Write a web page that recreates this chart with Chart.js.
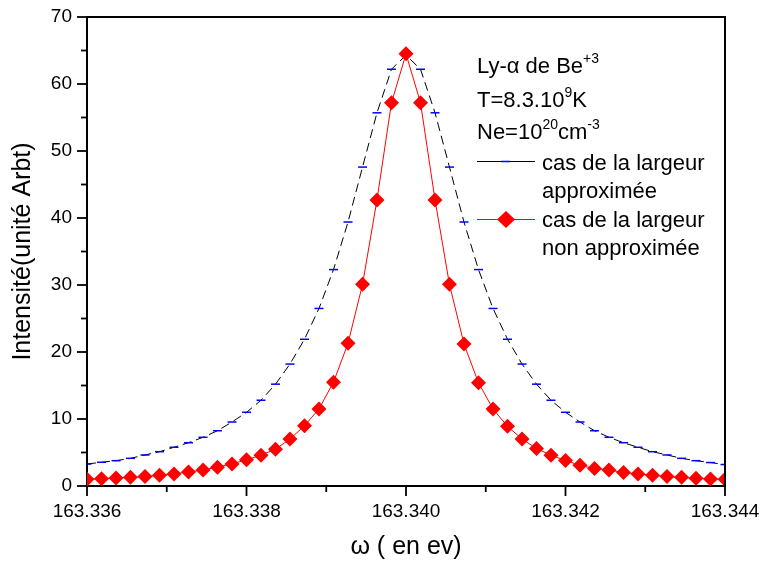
<!DOCTYPE html>
<html>
<head>
<meta charset="utf-8">
<script src="https://cdn.jsdelivr.net/npm/chart.js@4"></script>
<style>
  body { margin: 0; background: #fff; }
  canvas { display: block; }
</style>
</head>
<body>
<canvas id="raie" width="763" height="567"></canvas>
<script>
// omega (eV), 45 points
const omega = [
  163.336000, 163.336182, 163.336364, 163.336545, 163.336727, 163.336909,
  163.337091, 163.337273, 163.337455, 163.337636, 163.337818, 163.338000,
  163.338182, 163.338364, 163.338545, 163.338727, 163.338909, 163.339091,
  163.339273, 163.339455, 163.339636, 163.339818, 163.340000, 163.340182,
  163.340364, 163.340545, 163.340727, 163.340909, 163.341091, 163.341273,
  163.341455, 163.341636, 163.341818, 163.342000, 163.342182, 163.342364,
  163.342545, 163.342727, 163.342909, 163.343091, 163.343273, 163.343455,
  163.343636, 163.343818, 163.344000
];
// cas de la largeur approximée
const intApprox = [
  3.28, 3.54, 3.78, 4.13, 4.63, 5.12, 5.78, 6.46, 7.27, 8.25, 9.55,
  11.0, 12.8, 15.2, 18.2, 21.9, 26.5, 32.3, 39.4, 47.6, 55.7, 62.2,
  64.3,
  62.2, 55.7, 47.6, 39.4, 32.3, 26.5, 21.9, 18.2, 15.2, 12.8, 11.0,
  9.55, 8.25, 7.27, 6.46, 5.78, 5.12, 4.63, 4.13, 3.78, 3.5, 3.2
];
// cas de la largeur non approximée
const intNonApprox = [
  1.0, 1.1, 1.2, 1.3, 1.4, 1.6, 1.8, 2.1, 2.4, 2.8, 3.3,
  3.9, 4.6, 5.5, 7.0, 9.0, 11.5, 15.5, 21.3, 30.1, 42.7, 57.2,
  64.5,
  57.2, 42.7, 30.1, 21.2, 15.4, 11.5, 8.9, 7.0, 5.6, 4.6, 3.8,
  3.1, 2.6, 2.4, 2.0, 1.8, 1.6, 1.4, 1.3, 1.15, 1.05, 1.0
];
const xMajorLabels = ["163.336", "163.338", "163.340", "163.342", "163.344"];

const FONT = "'Liberation Sans', Arial, sans-serif";

function toPoints(ys) {
  return omega.map((x, i) => ({ x: x, y: ys[i] }));
}

// ticks drawn outward, major and minor, plus the top/right frame
const frameAndTicks = {
  id: 'frameAndTicks',
  afterDraw(chart) {
    const ctx = chart.ctx;
    const area = chart.chartArea;
    const xs = chart.scales.x, ys = chart.scales.y;
    ctx.save();
    ctx.strokeStyle = '#000';
    ctx.lineWidth = 2;
    ctx.beginPath();
    ctx.moveTo(area.left, area.top);
    ctx.lineTo(area.right, area.top);
    ctx.lineTo(area.right, area.bottom);
    ctx.stroke();

    ctx.lineWidth = 1.8;
    xs.ticks.forEach(t => {
      const px = xs.getPixelForValue(t.value);
      const major = Math.round(t.value * 1000) % 2 === 0;
      ctx.beginPath();
      ctx.moveTo(px, area.bottom);
      ctx.lineTo(px, area.bottom + (major ? 10 : 6));
      ctx.stroke();
    });
    ys.ticks.forEach(t => {
      const py = ys.getPixelForValue(t.value);
      const major = Math.round(t.value) % 10 === 0;
      ctx.beginPath();
      ctx.moveTo(area.left, py);
      ctx.lineTo(area.left - (major ? 10 : 6), py);
      ctx.stroke();
    });
    ctx.restore();
  }
};

// text block + legend, drawn like the Origin label
const legendBlock = {
  id: 'legendBlock',
  afterDraw(chart) {
    const ctx = chart.ctx;
    ctx.save();
    ctx.fillStyle = '#000';
    ctx.textBaseline = 'alphabetic';
    ctx.textAlign = 'left';
    const big = '22px ' + FONT;
    const sup = '14px ' + FONT;

    function runs(x, y, parts) {
      parts.forEach(p => {
        ctx.font = p.s ? sup : big;
        ctx.fillText(p.t, x, p.s ? y - 10 : y);
        x += ctx.measureText(p.t).width;
      });
    }
    const x0 = 477;
    runs(x0, 73, [{ t: 'Ly-\u03B1 de Be' }, { t: '+3', s: 1 }]);
    runs(x0, 107, [{ t: 'T=8.3.10' }, { t: '9', s: 1 }, { t: 'K' }]);
    runs(x0, 139, [{ t: 'Ne=10' }, { t: '20', s: 1 }, { t: 'cm' }, { t: '-3', s: 1 }]);

    ctx.font = big;
    ctx.fillText('cas de la largeur', 542, 170);
    ctx.fillText('approximée', 542, 198);
    ctx.fillText('cas de la largeur', 542, 227);
    ctx.fillText('non approximée', 542, 255);

    // sample: approximée
    ctx.strokeStyle = '#000';
    ctx.lineWidth = 1;
    ctx.beginPath();
    ctx.moveTo(477, 161.5);
    ctx.lineTo(535, 161.5);
    ctx.stroke();
    ctx.strokeStyle = '#0000ff';
    ctx.lineWidth = 1.5;
    ctx.beginPath();
    ctx.moveTo(501, 161.5);
    ctx.lineTo(510, 161.5);
    ctx.stroke();

    // sample: non approximée
    ctx.strokeStyle = '#ff0000';
    ctx.lineWidth = 1;
    ctx.beginPath();
    ctx.moveTo(477, 219.5);
    ctx.lineTo(535, 219.5);
    ctx.stroke();
    ctx.fillStyle = '#ff0000';
    ctx.beginPath();
    ctx.moveTo(506, 211);
    ctx.lineTo(515, 219.5);
    ctx.lineTo(506, 228);
    ctx.lineTo(497, 219.5);
    ctx.closePath();
    ctx.fill();
    ctx.restore();
  }
};

const ctx = document.getElementById('raie').getContext('2d');
new Chart(ctx, {
  type: 'line',
  data: {
    datasets: [
      {
        label: 'cas de la largeur approximée',
        data: toPoints(intApprox),
        borderColor: '#000',
        borderWidth: 1,
        borderDash: [9, 5],
        pointStyle: 'line',
        pointRadius: 4.5,
        pointBorderColor: '#0000ff',
        pointBorderWidth: 1.5,
        fill: false,
        tension: 0,
        order: 2
      },
      {
        label: 'cas de la largeur non approximée',
        data: toPoints(intNonApprox),
        borderColor: '#ff0000',
        borderWidth: 1,
        pointStyle: 'rectRot',
        pointRadius: 7.5,
        pointBackgroundColor: '#ff0000',
        pointBorderColor: '#ff0000',
        pointBorderWidth: 0,
        fill: false,
        tension: 0,
        order: 1
      }
    ]
  },
  options: {
    responsive: false,
    animation: false,
    events: [],
    layout: { padding: { left: 0, top: 17, right: 38, bottom: 0 } },
    plugins: {
      legend: { display: false },
      tooltip: { enabled: false }
    },
    scales: {
      x: {
        type: 'linear',
        min: 163.336,
        max: 163.344,
        afterFit(s) {
          s.height = 81;
          s.paddingLeft = 0;
          s.paddingRight = 0;
        },
        border: { display: true, color: '#000', width: 2 },
        grid: { display: false, drawTicks: false },
        ticks: {
          stepSize: 0.001,
          autoSkip: false,
          maxRotation: 0,
          padding: 14,
          color: '#000',
          font: { family: FONT, size: 19 },
          callback: function(v) {
            const s = v.toFixed(3);
            return xMajorLabels.includes(s) ? s : '';
          }
        },
        title: {
          display: true,
          text: '\u03C9 ( en ev)',
          color: '#000',
          font: { family: FONT, size: 25 },
          padding: { top: 0, bottom: 5 }
        }
      },
      y: {
        min: 0,
        max: 70,
        afterFit(s) {
          s.width = 87;
          s.paddingTop = 0;
          s.paddingBottom = 0;
        },
        border: { display: true, color: '#000', width: 2 },
        grid: { display: false, drawTicks: false },
        ticks: {
          stepSize: 5,
          autoSkip: false,
          padding: 15,
          color: '#000',
          font: { family: FONT, size: 19 },
          callback: function(v) {
            return Math.round(v) % 10 === 0 ? String(v) : '';
          }
        },
        title: {
          display: true,
          text: 'Intensité(unité Arbt)',
          color: '#000',
          font: { family: FONT, size: 25 },
          padding: { top: 8, bottom: 0 }
        }
      }
    }
  },
  plugins: [frameAndTicks, legendBlock]
});
</script>
</body>
</html>
